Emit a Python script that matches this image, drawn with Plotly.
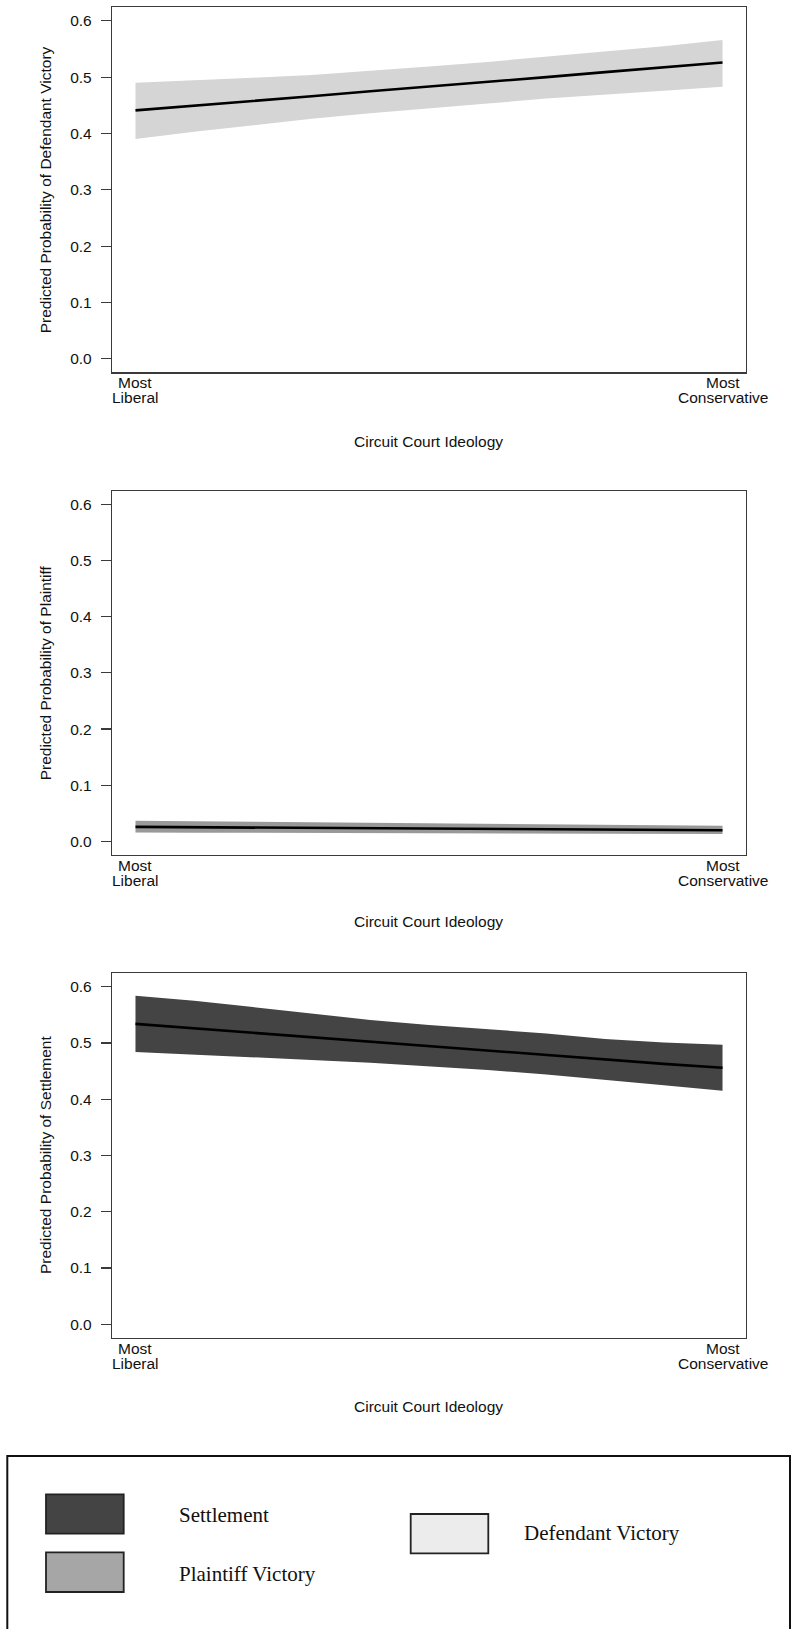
import plotly.graph_objects as go

# ---------------- data ----------------
ideology = [0.0, 0.1, 0.2, 0.3, 0.4, 0.5, 0.6, 0.7, 0.8, 0.9, 1.0]
x_tick_vals = [0.0, 1.0]
x_tick_top = ["Most", "Most"]
x_tick_bottom = ["Liberal", "Conservative"]
y_ticks = [0.0, 0.1, 0.2, 0.3, 0.4, 0.5, 0.6]

defendant_fit = [0.441, 0.449, 0.457, 0.466, 0.475, 0.483, 0.492, 0.500, 0.509, 0.517, 0.526]
defendant_hi = [0.490, 0.494, 0.499, 0.504, 0.511, 0.519, 0.527, 0.536, 0.545, 0.555, 0.566]
defendant_lo = [0.390, 0.403, 0.415, 0.426, 0.436, 0.445, 0.453, 0.462, 0.469, 0.476, 0.483]

plaintiff_fit = [0.026, 0.0254, 0.0248, 0.0242, 0.0236, 0.023, 0.0224, 0.0218, 0.0212, 0.0206, 0.020]
plaintiff_hi = [0.037, 0.036, 0.035, 0.034, 0.033, 0.032, 0.031, 0.030, 0.029, 0.0285, 0.028]
plaintiff_lo = [0.016, 0.0157, 0.0154, 0.0151, 0.0148, 0.0145, 0.0142, 0.0140, 0.0138, 0.0136, 0.0135]

settlement_fit = [0.534, 0.526, 0.518, 0.511, 0.503, 0.495, 0.487, 0.479, 0.471, 0.463, 0.456]
settlement_hi = [0.584, 0.575, 0.564, 0.552, 0.541, 0.532, 0.525, 0.517, 0.507, 0.501, 0.497]
settlement_lo = [0.484, 0.480, 0.475, 0.470, 0.465, 0.459, 0.452, 0.444, 0.435, 0.425, 0.415]

y_titles = ["Predicted Probability of Defendant Victory",
            "Predicted Probability of Plaintiff",
            "Predicted Probability of Settlement"]
x_title = "Circuit Court Ideology"
legend_labels = ["Settlement", "Plaintiff Victory", "Defendant Victory"]
legend_colors = ["#444444", "#a6a6a6", "#ececec"]
band_colors = ["#d5d5d5", "#999999", "#444444"]

# ---------------- layout geometry (pixels) ----------------
W, H = 795, 1629
L, R, T, B = 112, 49, 7, 291
panel_px = [(7.3, 372.3), (490.7, 855.0), (973.3, 1337.7)]   # (top, bottom)
x_title_px = [441.7, 921.5, 1406.0]

def px_x(px):
    return (px - L) / (W - L - R)

def px_y(py):
    return (H - B - py) / (H - T - B)

sans = "Liberation Sans, Arial, Helvetica, sans-serif"
serif = "Liberation Serif, Times New Roman, Times, serif"
txt = "#111111"

fig = go.Figure()

series = [
    (defendant_fit, defendant_hi, defendant_lo),
    (plaintiff_fit, plaintiff_hi, plaintiff_lo),
    (settlement_fit, settlement_hi, settlement_lo),
]

annotations = []
for i, (fit, hi, lo) in enumerate(series):
    xa = "x" if i == 0 else f"x{i+1}"
    ya = "y" if i == 0 else f"y{i+1}"
    fig.add_trace(go.Scatter(
        x=ideology + ideology[::-1], y=hi + lo[::-1],
        fill="toself", fillcolor=band_colors[i], mode="lines",
        line=dict(width=0, color=band_colors[i]),
        xaxis=xa, yaxis=ya, showlegend=False, hoverinfo="skip"))
    fig.add_trace(go.Scatter(
        x=ideology, y=fit, mode="lines",
        line=dict(color="black", width=2.6),
        xaxis=xa, yaxis=ya, showlegend=False))

    top, bot = panel_px[i]
    dom = [max(0.0, px_y(bot)), min(1.0, px_y(top))]
    axis_common = dict(showline=True, linecolor="#3a3a3a", linewidth=1.2,
                       mirror=True, showgrid=False, zeroline=False, automargin=False)
    fig.layout[f"xaxis{'' if i == 0 else i+1}"] = dict(
        axis_common, range=[-0.04, 1.04], showticklabels=False, ticks="",
        anchor=ya, domain=[0, 1])
    fig.layout[f"yaxis{'' if i == 0 else i+1}"] = dict(
        axis_common, range=[-0.024, 0.624], tickvals=y_ticks,
        ticktext=[f"{v:.1f}" for v in y_ticks],
        ticks="outside", ticklen=10, tickcolor="#3a3a3a", tickwidth=1.2,
        ticklabelstandoff=6,
        tickfont=dict(family=sans, size=15.5, color=txt),
        anchor=xa, domain=dom)

    # x tick labels (two tight lines each)
    for xv, t1, t2 in zip(x_tick_vals, x_tick_top, x_tick_bottom):
        annotations.append(dict(x=xv, xref=xa, y=px_y(bot + 10.5), yref="paper",
                                text=t1, showarrow=False, xanchor="center", yanchor="middle",
                                font=dict(family=sans, size=15.5, color=txt)))
        annotations.append(dict(x=xv, xref=xa, y=px_y(bot + 25.3), yref="paper",
                                text=t2, showarrow=False, xanchor="center", yanchor="middle",
                                font=dict(family=sans, size=15.5, color=txt)))
    # x title
    annotations.append(dict(x=px_x(428.9), xref="paper", y=px_y(x_title_px[i]), yref="paper",
                            text=x_title, showarrow=False, xanchor="center", yanchor="middle",
                            font=dict(family=sans, size=15.5, color=txt)))
    # y title
    annotations.append(dict(x=px_x(45.5), xref="paper", y=px_y((top + bot) / 2), yref="paper",
                            text=y_titles[i], showarrow=False, textangle=-90,
                            xanchor="center", yanchor="middle",
                            font=dict(family=sans, size=15.5, color=txt)))

# ---------------- legend box (drawn) ----------------
shapes = []
shapes.append(dict(type="rect", xref="paper", yref="paper",
                   x0=px_x(7.3), x1=px_x(790), y0=px_y(1660), y1=px_y(1456),
                   line=dict(color="#111111", width=2), fillcolor="white", layer="below"))
swatches = [  # (x0, x1, y0, y1) pixels
    (46.0, 123.7, 1494.3, 1533.7),
    (46.0, 123.7, 1552.3, 1592.0),
    (410.7, 488.3, 1514.0, 1553.3),
]
text_pos = [(176.7, 1514.5), (176.7, 1573.5), (522.0, 1533.5)]
for (x0, x1, y0, y1), col, lab, (tx, ty) in zip(swatches, legend_colors, legend_labels, text_pos):
    shapes.append(dict(type="rect", xref="paper", yref="paper",
                       x0=px_x(x0), x1=px_x(x1), y0=px_y(y1), y1=px_y(y0),
                       line=dict(color="#222222", width=1.8), fillcolor=col))
    annotations.append(dict(x=px_x(tx), xref="paper", y=px_y(ty), yref="paper",
                            text=lab, showarrow=False, xanchor="left", yanchor="middle",
                            font=dict(family=serif, size=21, color="#111111")))

fig.update_layout(
    width=W, height=H,
    margin=dict(l=L, r=R, t=T, b=B, autoexpand=False),
    paper_bgcolor="white", plot_bgcolor="white",
    showlegend=False,
    annotations=annotations, shapes=shapes,
)

fig.write_html("out.html",
               config={"displayModeBar": False, "staticPlot": True},
               post_script="document.body.style.margin='0';document.body.style.overflow='hidden';")
